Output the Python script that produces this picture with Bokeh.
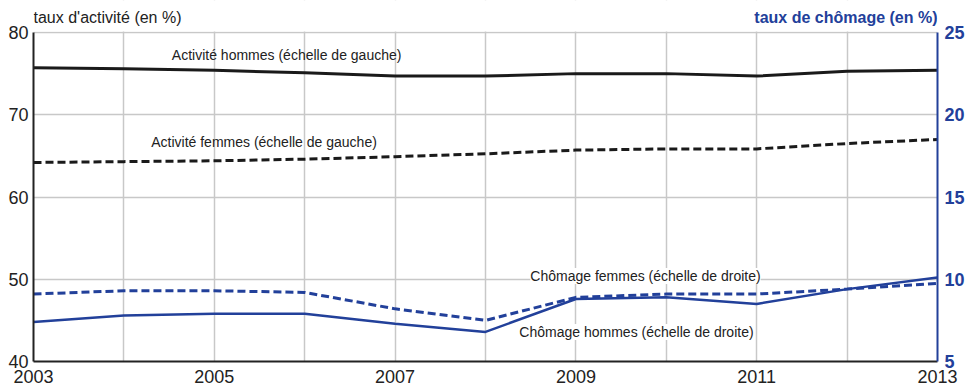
from bokeh.plotting import figure
from bokeh.models import Range1d, LinearAxis, FixedTicker, Label, BoxAnnotation
from bokeh.embed import file_html
from bokeh.resources import INLINE

years = [2003, 2004, 2005, 2006, 2007, 2008, 2009, 2010, 2011, 2012, 2013]
act_hommes = [75.7, 75.6, 75.4, 75.1, 74.7, 74.7, 75.0, 75.0, 74.7, 75.3, 75.4]
act_femmes = [64.2, 64.3, 64.4, 64.6, 64.9, 65.25, 65.7, 65.85, 65.85, 66.5, 67.0]
cho_femmes = [9.1, 9.3, 9.3, 9.2, 8.2, 7.5, 8.9, 9.1, 9.1, 9.4, 9.75]
cho_hommes = [7.4, 7.8, 7.9, 7.9, 7.3, 6.8, 8.8, 8.9, 8.5, 9.4, 10.1]
left_ticks = [40, 50, 60, 70, 80]
right_ticks = [5, 10, 15, 20, 25]
x_label_ticks = [2003, 2005, 2007, 2009, 2011, 2013]

FONT = "Liberation Sans"
BLUE = "#22409a"
DARK = "#222222"
W, H = 972, 388
BL, BR, BB = 33, 35, 27
TOP_PX = 32                      # space above the 80 / 25 line, used for the titles
plot_px = H - BB - TOP_PX        # pixel height between 40 and 80
L_MIN, L_MAX = 40, 80
R_MIN, R_MAX = 5, 25
l_top = L_MAX + TOP_PX * (L_MAX - L_MIN) / plot_px
r_top = R_MAX + TOP_PX * (R_MAX - R_MIN) / plot_px

p = figure(width=W, height=H, output_backend="svg", toolbar_location=None,
           x_range=Range1d(2003, 2013), y_range=Range1d(L_MIN, l_top),
           min_border_left=BL, min_border_right=BR, min_border_top=0, min_border_bottom=BB)
p.outline_line_color = None
p.background_fill_color = "white"
p.extra_y_ranges = {"right": Range1d(R_MIN, r_top)}

# grids
p.xgrid.ticker = FixedTicker(ticks=years)
p.ygrid.ticker = FixedTicker(ticks=left_ticks)
for g in (p.xgrid, p.ygrid):
    g.grid_line_color = "#c8c8c8"
    g.grid_line_width = 1.5

# axes
p.xaxis.ticker = FixedTicker(ticks=x_label_ticks)
p.yaxis.ticker = FixedTicker(ticks=left_ticks)
p.yaxis.bounds = (L_MIN, L_MAX)
for ax in (p.xaxis[0], p.yaxis[0]):
    ax.axis_line_color = DARK
    ax.axis_line_width = 2
    ax.major_tick_line_color = None
    ax.minor_tick_line_color = None
    ax.major_tick_out = 0
    ax.major_tick_in = 0
    ax.major_label_text_font = FONT
    ax.major_label_text_font_size = "18px"
    ax.major_label_text_color = DARK
    ax.major_label_text_line_height = 0.9
p.xaxis.major_label_standoff = 8
p.yaxis.major_label_standoff = 5

rax = LinearAxis(y_range_name="right", ticker=FixedTicker(ticks=right_ticks),
                 bounds=(R_MIN, R_MAX))
rax.axis_line_color = BLUE
rax.axis_line_width = 2
rax.major_tick_line_color = None
rax.minor_tick_line_color = None
rax.major_tick_out = 0
rax.major_tick_in = 0
rax.major_label_text_font = FONT
rax.major_label_text_font_size = "18px"
rax.major_label_text_font_style = "bold"
rax.major_label_text_color = BLUE
rax.major_label_standoff = 7
p.add_layout(rax, "right")

# white band above the plotting area (hides grid lines there)
p.add_layout(BoxAnnotation(bottom=L_MAX + 0.12, fill_color="white", fill_alpha=1.0,
                           line_color=None, level="annotation"))

# lines
p.line(years, act_hommes, line_color="#1a1a1a", line_width=3)
p.line(years, act_femmes, line_color="#1a1a1a", line_width=3, line_dash="8 4")
p.line(years, cho_hommes, line_color=BLUE, line_width=2.5, y_range_name="right")
p.line(years, cho_femmes, line_color=BLUE, line_width=3, line_dash="8 4", y_range_name="right")

# annotations
def lab(x, y, text, **kw):
    l = Label(x=x, y=y, text=text, text_font=FONT, text_font_size="14px",
              text_color=DARK, text_align="center", text_baseline="middle", **kw)
    p.add_layout(l)

lab(2005.8, 77.3, "Activité hommes (échelle de gauche)")
lab(2005.55, 66.7, "Activité femmes (échelle de gauche)")
lab(2009.77, 10.2, "Chômage femmes (échelle de droite)", y_range_name="right",
    background_fill_color="white")
lab(2009.67, 6.8, "Chômage hommes (échelle de droite)", y_range_name="right",
    background_fill_color="white")

t1 = Label(x=2003, y=L_MAX, y_offset=7, text="taux d'activité (en %)", text_font=FONT,
           text_font_size="16px", text_color=DARK, text_align="left",
           text_baseline="bottom", level="overlay")
p.add_layout(t1)
t2 = Label(x=2013, y=L_MAX, y_offset=7, text="taux de chômage (en %)", text_font=FONT,
           text_font_size="16px", text_font_style="bold", text_color=BLUE,
           text_align="right", text_baseline="bottom", level="overlay")
p.add_layout(t2)

open("out.html", "w").write(file_html(p, INLINE))
